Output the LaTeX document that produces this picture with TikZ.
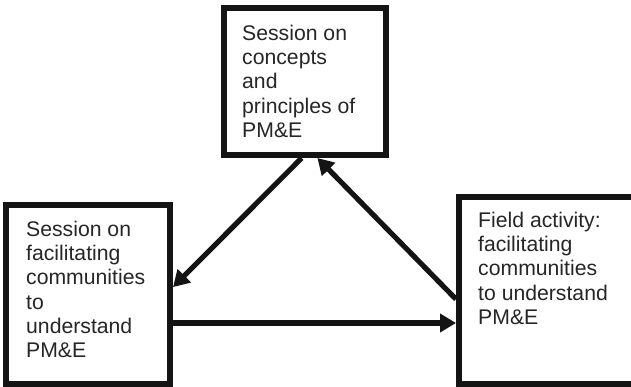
\documentclass[tikz,border=0pt]{standalone}
\usepackage{fontspec}
\setmainfont{Liberation Sans}
\usetikzlibrary{arrows.meta,calc}
\begin{document}
\begin{tikzpicture}[x=1bp,y=-1bp,
  box/.style={draw=black!92,line width=6bp,rectangle,inner sep=0pt},
  label/.style={anchor=north west,inner sep=0pt,align=left,text=black!85,
    font=\fontsize{21.2bp}{24.2bp}\selectfont},
  arr/.style={draw=black!92,line width=5.2bp,
    -{Triangle[length=16bp,width=18bp]}}]
  \useasboundingbox (0,0) rectangle (631,386);
  \clip (0,0) rectangle (631,386);
  \fill[white] (0,0) rectangle (631,386);

  % the three activity boxes
  \node[box,minimum width=162bp,minimum height=147bp] (top) at (305,81.5) {};
  \node[box,minimum width=164bp,minimum height=179bp] (left) at (88,294.5) {};
  \node[box,minimum width=221bp,minimum height=187bp] (right) at (569.5,290.5) {};

  % box texts
  \node[label] (ttop) at (242,25) {Session on\\concepts\\and\\principles of\\PM\&E};
  \node[label] (tleft) at (26,221) {Session on\\facilitating\\communities\\to\\understand\\PM\&E};
  \node[label] (tright) at (478,212) {Field activity:\\facilitating\\communities\\to understand\\PM\&E};

  % connector end points on the box borders
  \coordinate (a1s) at ($(top.south west)!0.48!(top.south east)$);
  \coordinate (a1e) at ($(left.north east)!0.46!(left.south east)$);
  \coordinate (a2s) at ($(right.north west)!0.545!(right.south west)$);
  \coordinate (a2e) at ($(top.south west)!0.574!(top.south east)$);
  \coordinate (a3s) at ($(left.north east)!0.654!(left.south east)$);

  \draw[arr] (a1s) -- (a1e);
  \draw[arr] (a2s) -- (a2e);
  \draw[arr] (a3s) -- (a3s -| right.west);
\end{tikzpicture}
\end{document}
